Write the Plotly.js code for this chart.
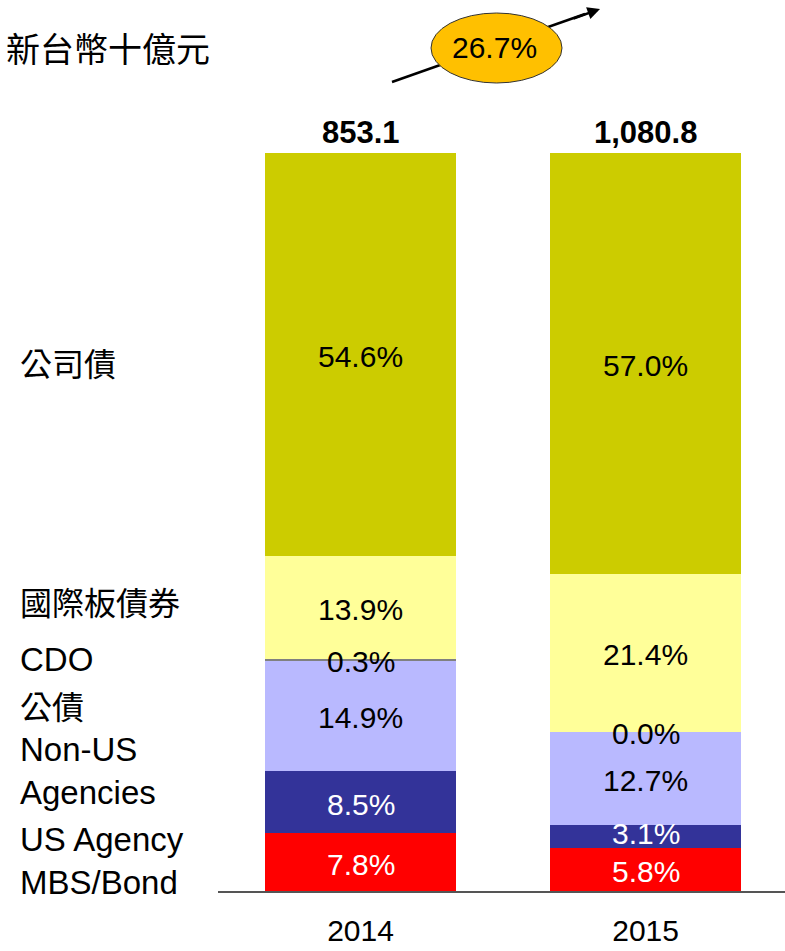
<!DOCTYPE html>
<html>
<head>
<meta charset="utf-8">
<script src="https://cdn.plot.ly/plotly-3.0.1.min.js"></script>
<style>
  html, body {margin:0; padding:0; background:#fff;}
  #graph {width:785px; height:951px;}
</style>
</head>
<body>
<div id="graph"></div>
<script>
//Data
var years=['2014','2015']
var totals=[853.1, 1080.8]

// shares in %, bottom to top
var mbs=[7.8, 5.8]
var nonUs=[8.5, 3.1]
var gov=[14.9, 12.7]
var cdo=[0.3, 0.0]
var intl=[13.9, 21.4]
var corp=[54.6, 57.0]

var names=['US Agency MBS/Bond','Non-US Agencies','公債','CDO','國際板債券','公司債']
var sideText=['US Agency<br>MBS/Bond','Non-US<br>Agencies','公債','CDO','國際板債券','公司債']
var unitText='新台幣十億元'

//Styles
var colors=['#FF0000','#333399','#B9B9FF','#808080','#FFFF99','#CCCC00']
var textColors=['#fff','#fff','#000','#000','#000','#000']
var sideY=[4.1, 16.3, 25.2, 31.4, 39.3, 71.7]   // y of side labels (axis units)
var latin='Liberation Sans, Arial, sans-serif'
var cjk='Noto Sans CJK TC, sans-serif'

var series=[mbs, nonUs, gov, cdo, intl, corp]

// pixel -> paper helpers (plot area 218..785 x 153..891)
var L=218, T=153, W=567, H=738
function px(x){ return (x-L)/W }
function py(y){ return (T+H-y)/H }

////////Traces
var traces=series.map(function(s,i){
  return {
    type:'bar',
    x:years,
    y:s,
    name:names[i],
    width:0.67,
    marker:{color:colors[i], line:{width:0}},
    hoverinfo:'skip'
  }
})

////////Annotations
var annotations=[]
var base=[0,0]
series.forEach(function(s,i){
  s.forEach(function(v,j){
    annotations.push({
      x:j, y:base[j]+v/2, xref:'x', yref:'y',
      xanchor:'center', yanchor:'middle',
      text:v.toFixed(1)+'%', showarrow:false,
      font:{family:latin, size:30, color:textColors[i]},
      yshift:(v>1 && v<5) ? 3 : -2
    })
    base[j]+=v
  })
})

// totals above bars
totals.forEach(function(v,j){
  annotations.push({
    x:j, y:100, xref:'x', yref:'y', xanchor:'center', yanchor:'bottom',
    text:'<b>'+v.toLocaleString('en-US',{minimumFractionDigits:1})+'</b>',
    showarrow:false, font:{family:latin, size:31, color:'#000'}, yshift:1
  })
})

// side labels
sideText.forEach(function(t,i){
  var isCjk=/[\u4e00-\u9fff]/.test(t)
  annotations.push({
    x:px(18), y:sideY[i], xref:'paper', yref:'y', xanchor:'left', yanchor:'middle',
    text:t, showarrow:false, align:'left',
    font:{family:isCjk?cjk:latin, size:isCjk?32:33, color:'#000'}
  })
})

// unit
annotations.push({
  x:px(212), y:py(47), xref:'paper', yref:'paper', xanchor:'right', yanchor:'middle',
  text:unitText, showarrow:false, font:{family:cjk, size:34, color:'#000'}
})

// growth arrow head + label
var growth=((totals[1]/totals[0]-1)*100).toFixed(1)+'%'
annotations.push({
  x:px(600), y:py(9), xref:'paper', yref:'paper',
  ax:-28, ay:10, text:'', showarrow:true,
  arrowhead:2, arrowsize:1, arrowwidth:2.5, arrowcolor:'#000'
})
annotations.push({
  x:px(494), y:py(48), xref:'paper', yref:'paper', xanchor:'center', yanchor:'middle',
  text:growth, showarrow:false, font:{family:latin, size:30, color:'#000'}
})

var shapes=[
  {type:'line', xref:'paper', yref:'paper', x0:px(392), y0:py(82), x1:px(585), y1:py(14),
    line:{color:'#000', width:2.5}},
  {type:'circle', xref:'paper', yref:'paper', x0:px(431), x1:px(562), y0:py(83), y1:py(13),
    fillcolor:'#FFC000', line:{color:'#333', width:1}}
]

var layout={
  barmode:'stack',
  showlegend:false,
  width:785,
  height:951,
  margin:{l:L, r:0, t:T, b:60, pad:0},
  xaxis:{
    type:'category',
    range:[-0.5, 1.489],
    showline:true, linecolor:'#555', linewidth:1.5,
    showgrid:false, zeroline:false, ticks:'',
    ticklabelstandoff:12,
    tickfont:{family:latin, size:30, color:'#000'},
    fixedrange:true
  },
  yaxis:{
    range:[0,100],
    showline:false, showgrid:false, zeroline:false,
    showticklabels:false, ticks:'', fixedrange:true
  },
  annotations:annotations,
  shapes:shapes,
  paper_bgcolor:'#fff',
  plot_bgcolor:'#fff'
}

Plotly.newPlot('graph', traces, layout, {displayModeBar:false, staticPlot:true})
</script>
</body>
</html>
